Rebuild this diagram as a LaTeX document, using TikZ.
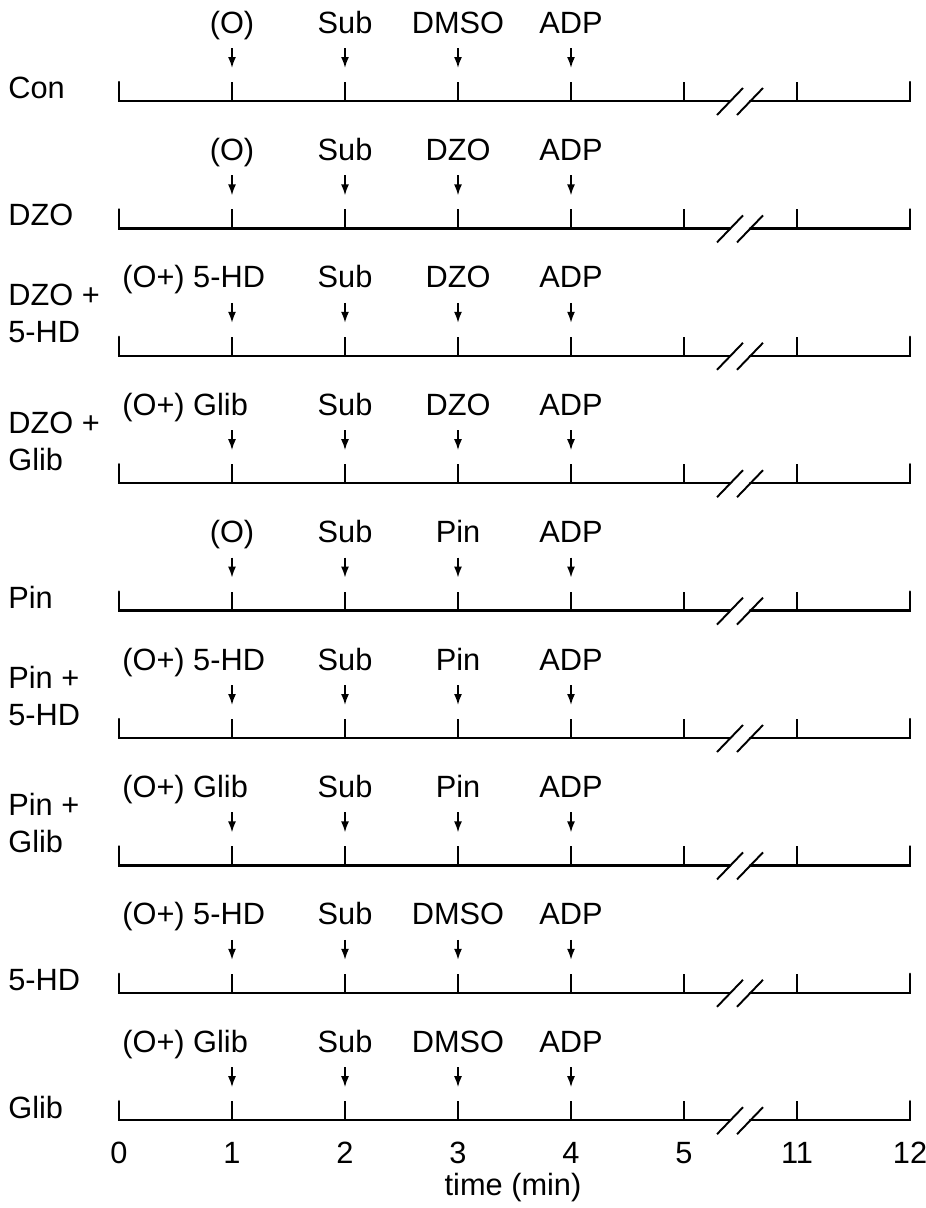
\documentclass[tikz,border=0pt]{standalone}
\usepackage{fontspec}
\setmainfont{Liberation Sans}
\usetikzlibrary{arrows.meta, positioning}

\begin{document}
\begin{tikzpicture}[
    x=0.02cm, y=-0.02cm,
    every node/.style={font=\fontsize{17.5}{21}\selectfont, inner sep=0pt},
    axis/.style={line width=1.4pt, line cap=round},
    tick/.style={line width=1.1pt},
    drop/.style={-{Latex[length=0.22cm, width=0.16cm]}, line width=1pt},
    group/.style={align=left, anchor=west},
    event/.style={anchor=base}
  ]
    \useasboundingbox (0,0) rectangle (926,1208);

    % one time line per protocol
    \foreach \r/\grp/\ly/\evA/\anc/\xA/\evC in {
        1/Con/13/{(O)}/base/232/DMSO,
        2/DZO/13/{(O)}/base/232/DZO,
        3/{DZO +\\5-HD}/42/{(O+) 5-HD}/base west/122/DZO,
        4/{DZO +\\Glib}/42/{(O+) Glib}/base west/122/DZO,
        5/Pin/13/{(O)}/base/232/Pin,
        6/{Pin +\\5-HD}/42/{(O+) 5-HD}/base west/122/Pin,
        7/{Pin +\\Glib}/42/{(O+) Glib}/base west/122/Pin,
        8/5-HD/13/{(O+) 5-HD}/base west/122/DMSO,
        9/Glib/13/{(O+) Glib}/base west/122/DMSO} {
      \pgfmathsetmacro\yb{101+(\r-1)*127.4}
      \node[group] (g\r) at (8,\yb-\ly) {\grp};

      % axis with break between 5 and 11
      \draw[axis] (119,\yb-19) -- (119,\yb) -- (730,\yb);
      \draw[axis] (750,\yb) -- (910,\yb) -- (910,\yb-19);
      \foreach \x in {232,345,458,571,684,797}
        \draw[tick] (\x,\yb) -- (\x,\yb-19);
      \draw[tick] (717,\yb+14) -- (743,\yb-13);
      \draw[tick] (737,\yb+14) -- (763,\yb-13);

      % additions
      \node[event, anchor=\anc] (e\r-1) at (\xA,\yb-68) {\evA};
      \foreach \k/\x/\lab in {2/345/Sub, 3/458/\evC, 4/571/ADP}
        \node[event] (e\r-\k) at (\x,\yb-68) {\lab};
      \foreach \k/\x in {1/232, 2/345, 3/458, 4/571} {
        \coordinate (d\r-\k) at (\x,\yb-53);
        \coordinate (h\r-\k) at (\x,\yb-33);
        \draw[drop] (d\r-\k) -- (h\r-\k);
      }
    }

    % time axis
    \foreach \t/\x in {0/119, 1/232, 2/345, 3/458, 4/571, 5/684, 11/797, 12/910}
      \node (n\t) at (\x,1153) {\t};
    \node (tlabel) at (513,1188) {time (min)};
  \end{tikzpicture}
\end{document}
